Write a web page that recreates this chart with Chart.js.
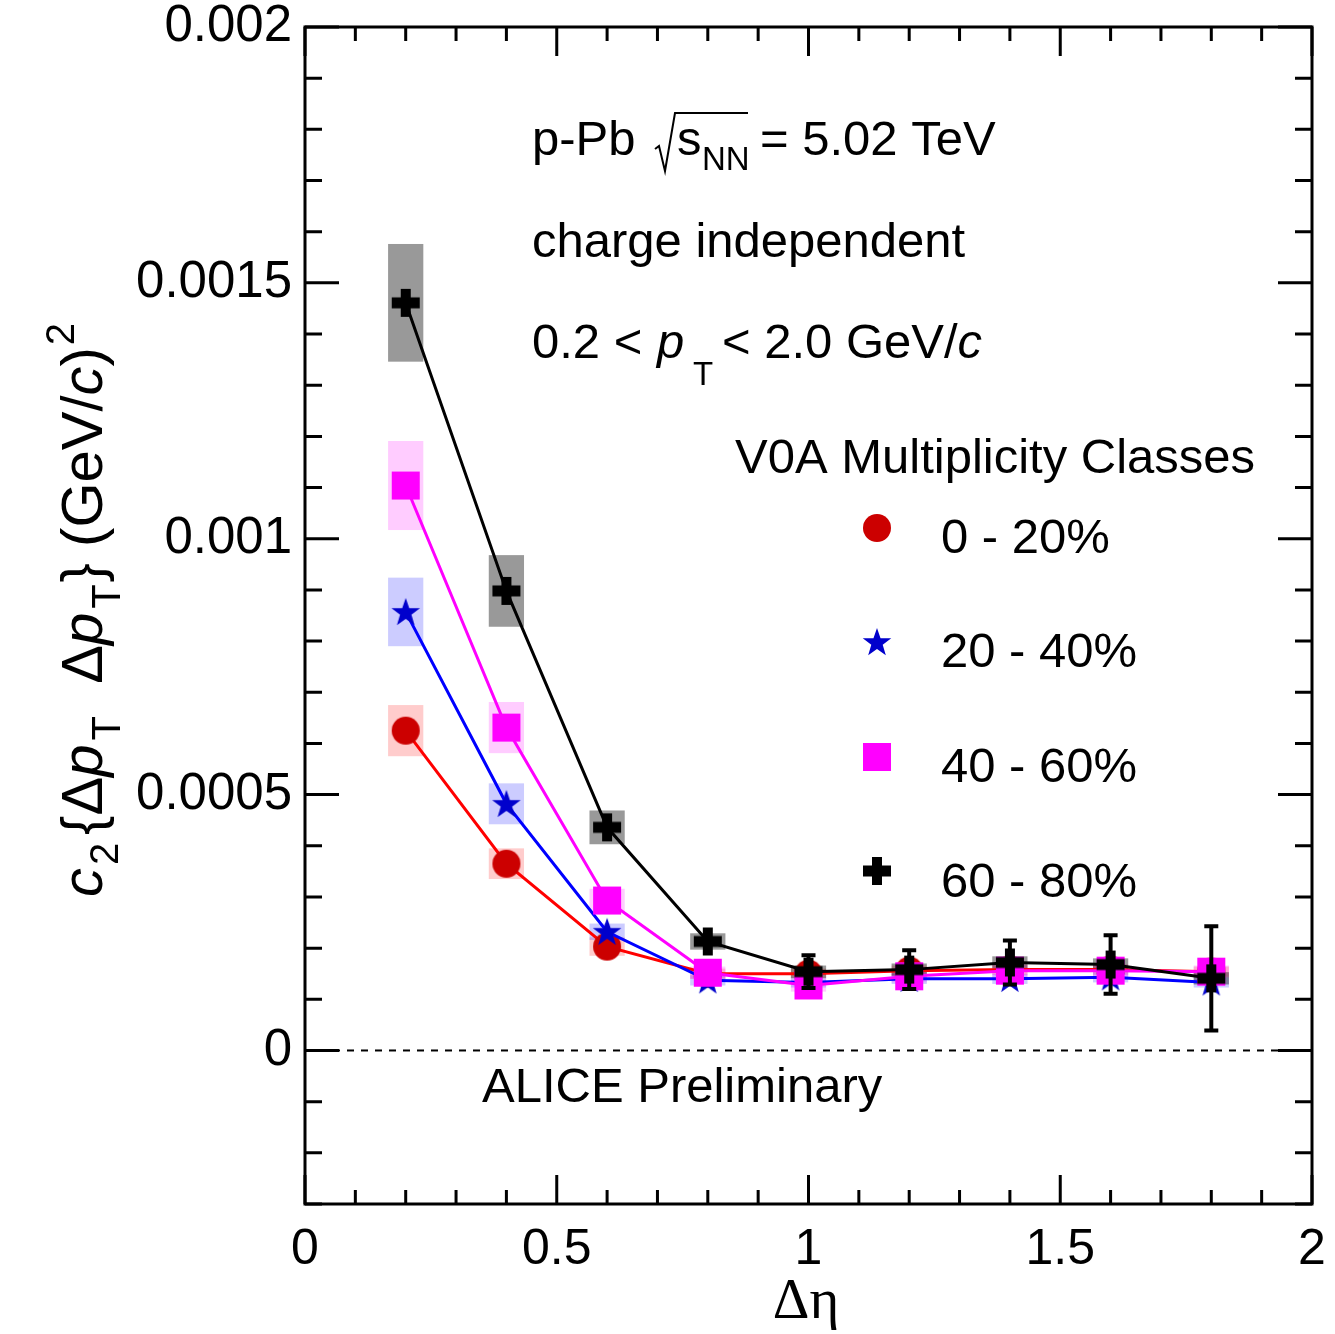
<!DOCTYPE html>
<html>
<head>
<meta charset="utf-8">
<script src="https://cdn.jsdelivr.net/npm/chart.js@4.4.1/dist/chart.umd.min.js"></script>
<style>
html, body { margin: 0; padding: 0; background: #fff; }
#wrap { width: 1335px; height: 1334px; position: relative; }
</style>
</head>
<body>
<div id="wrap"><canvas id="graphic"></canvas></div>
<script>
// delta eta bins
const etaBins = [0.2, 0.4, 0.6, 0.8, 1.0, 1.2, 1.4, 1.6, 1.8];
const classLabels = ['0 - 20%', '20 - 40%', '40 - 60%', '60 - 80%'];

// c2 values per multiplicity class, with systematic (boxes) and statistical (bars) errors
const c2_0_20  = [0.000625, 0.000365, 0.000203, 0.000150, 0.000150, 0.000156, 0.000158, 0.000158, 0.000154];
const sys_0_20 = [0.000050, 0.000030, 0.000018, 0.000010, 0.000010, 0.000010, 0.000010, 0.000010, 0.000010];
const c2_20_40  = [0.000857, 0.000482, 0.000232, 0.000137, 0.000133, 0.000140, 0.000140, 0.000143, 0.000133];
const sys_20_40 = [0.000067, 0.000040, 0.000016, 0.000010, 0.000010, 0.000010, 0.000010, 0.000010, 0.000010];
const c2_40_60  = [0.001104, 0.000631, 0.000293, 0.000152, 0.000127, 0.000145, 0.000156, 0.000156, 0.000154];
const sys_40_60 = [0.000087, 0.000050, 0.000023, 0.000012, 0.000012, 0.000012, 0.000012, 0.000012, 0.000012];
const c2_60_80   = [0.001461, 0.000898, 0.000436, 0.000213, 0.000154, 0.000158, 0.000172, 0.000168, 0.000141];
const sys_60_80  = [0.000115, 0.000070, 0.000033, 0.000016, 0.000012, 0.000012, 0.000012, 0.000012, 0.000012];
const stat_60_80 = [0, 0, 0, 0, 0.000032, 0.000038, 0.000043, 0.000057, 0.000102];

const xTickValues = [0, 0.5, 1, 1.5, 2];
const xTickLabels = ['0', '0.5', '1', '1.5', '2'];
const yTickValues = [0, 0.0005, 0.001, 0.0015, 0.002];
const yTickLabels = ['0', '0.0005', '0.001', '0.0015', '0.002'];

const SANS = '"Liberation Sans", Arial, Helvetica, sans-serif';

const makeMarker = (kind, color) => {
    const c = document.createElement('canvas');
    c.width = 34; c.height = 34;
    const g = c.getContext('2d');
    g.fillStyle = color;
    g.translate(17, 17);
    if (kind === 'circle') {
        g.beginPath(); g.arc(0, 0, 14, 0, Math.PI * 2); g.fill();
    } else if (kind === 'square') {
        g.fillRect(-14, -14, 28, 28);
    } else if (kind === 'star') {
        g.beginPath();
        for (let i = 0; i < 10; i++) {
            const r = i % 2 === 0 ? 15 : 6;
            const a = -Math.PI / 2 + i * Math.PI / 5;
            g.lineTo(r * Math.cos(a), r * Math.sin(a) + 1);
        }
        g.closePath(); g.fill();
    } else {
        g.fillRect(-14, -5.5, 28, 11);
        g.fillRect(-5, -14, 10, 28);
    }
    return c;
};

const series = [
    { label: classLabels[0], vals: c2_0_20, sys: sys_0_20, stat: null, line: '#ff0000', box: 'rgba(255,0,0,0.2)', marker: makeMarker('circle', '#cc0000'), order: 3 },
    { label: classLabels[1], vals: c2_20_40, sys: sys_20_40, stat: null, line: '#0000ff', box: 'rgba(0,0,255,0.2)', marker: makeMarker('star', '#0000cc'), order: 2 },
    { label: classLabels[2], vals: c2_40_60, sys: sys_40_60, stat: null, line: '#ff00ff', box: 'rgba(255,0,255,0.2)', marker: makeMarker('square', '#ff00ff'), order: 1 },
    { label: classLabels[3], vals: c2_60_80, sys: sys_60_80, stat: stat_60_80, line: '#000000', box: 'rgba(0,0,0,0.4)', marker: makeMarker('plus', '#000000'), order: 0 }
];

const drawParts = (ctx, parts, x, y) => {
    let cx = x;
    parts.forEach(p => {
        ctx.font = p.f;
        cx += (p.gap || 0);
        ctx.fillText(p.t, cx, y + (p.dy || 0));
        cx += ctx.measureText(p.t).width;
    });
    return cx;
};
const partsWidth = (ctx, parts) => {
    let w = 0;
    parts.forEach(p => { ctx.font = p.f; w += (p.gap || 0) + ctx.measureText(p.t).width; });
    return w;
};

const physPlugin = {
    id: 'phys',
    beforeDatasetsDraw(chart) {
        const { ctx, chartArea: a, scales: { x, y } } = chart;
        ctx.save();
        // dashed zero line
        ctx.strokeStyle = '#000';
        ctx.lineWidth = 2;
        ctx.setLineDash([7, 7]);
        ctx.beginPath();
        ctx.moveTo(a.left, y.getPixelForValue(0));
        ctx.lineTo(a.right, y.getPixelForValue(0));
        ctx.stroke();
        ctx.setLineDash([]);
        // systematic boxes
        series.forEach(s => {
            ctx.fillStyle = s.box;
            etaBins.forEach((e, i) => {
                const x0 = x.getPixelForValue(e - 0.035), x1 = x.getPixelForValue(e + 0.035);
                const y0 = y.getPixelForValue(s.vals[i] + s.sys[i]), y1 = y.getPixelForValue(s.vals[i] - s.sys[i]);
                ctx.fillRect(x0, y0, x1 - x0, y1 - y0);
            });
        });
        ctx.restore();
    },
    afterDatasetsDraw(chart) {
        const { ctx, scales: { x, y } } = chart;
        ctx.save();
        series.forEach(s => {
            if (!s.stat) return;
            ctx.strokeStyle = s.line;
            etaBins.forEach((e, i) => {
                if (!s.stat[i]) return;
                const px = x.getPixelForValue(e);
                const yt = y.getPixelForValue(s.vals[i] + s.stat[i]);
                const yb = y.getPixelForValue(s.vals[i] - s.stat[i]);
                ctx.lineWidth = 4;
                ctx.beginPath(); ctx.moveTo(px, yt); ctx.lineTo(px, yb); ctx.stroke();
                ctx.beginPath();
                ctx.moveTo(px - 7, yt); ctx.lineTo(px + 7, yt);
                ctx.moveTo(px - 7, yb); ctx.lineTo(px + 7, yb);
                ctx.stroke();
            });
        });
        ctx.restore();
    },
    afterDraw(chart) {
        const { ctx, chartArea: a, scales: { x, y } } = chart;
        ctx.save();
        ctx.strokeStyle = '#000';
        ctx.fillStyle = '#000';
        ctx.lineWidth = 3;
        ctx.strokeRect(a.left, a.top, a.right - a.left, a.bottom - a.top);

        // inward ticks on all four sides
        ctx.beginPath();
        for (let k = -3; k <= 20; k++) {
            const py = y.getPixelForValue(k * 0.0001);
            const len = k % 5 === 0 ? 34 : 17;
            ctx.moveTo(a.left, py); ctx.lineTo(a.left + len, py);
            ctx.moveTo(a.right, py); ctx.lineTo(a.right - len, py);
        }
        for (let k = 0; k <= 20; k++) {
            const px = x.getPixelForValue(k * 0.1);
            const len = k % 5 === 0 ? 29 : 14;
            ctx.moveTo(px, a.bottom); ctx.lineTo(px, a.bottom - len);
            ctx.moveTo(px, a.top); ctx.lineTo(px, a.top + len);
        }
        ctx.stroke();

        // annotations
        const N = '49px ' + SANS, I = 'italic 49px ' + SANS, S = '33px ' + SANS;
        ctx.textAlign = 'left';
        ctx.textBaseline = 'alphabetic';
        ctx.font = N;
        ctx.fillText('p-Pb', 532, 155);
        ctx.lineWidth = 2;
        ctx.beginPath();
        ctx.moveTo(655, 149); ctx.lineTo(659, 146); ctx.lineTo(665, 171); ctx.lineTo(675, 113); ctx.lineTo(748, 113);
        ctx.stroke();
        ctx.font = N; ctx.fillText('s', 677, 155);
        ctx.font = S; ctx.fillText('NN', 702, 170);
        ctx.font = N; ctx.fillText('= 5.02 TeV', 760, 155);

        ctx.fillText('charge independent', 532, 257);

        ctx.fillText('0.2 <', 532, 358);
        ctx.font = I; ctx.fillText('p', 657, 358);
        ctx.font = S; ctx.fillText('T', 693, 385);
        ctx.font = N;
        const w1 = ctx.measureText('< 2.0 GeV/').width;
        ctx.fillText('< 2.0 GeV/', 722, 358);
        ctx.font = I; ctx.fillText('c', 722 + w1, 358);

        ctx.font = N;
        ctx.fillText('V0A Multiplicity Classes', 735, 473);
        ctx.fillText('ALICE Preliminary', 482, 1102);

        // legend
        const legY = [528, 642, 757, 871];
        const legBase = [553, 667, 782, 897];
        series.forEach((s, i) => {
            ctx.drawImage(s.marker, 877 - 17, legY[i] - 17);
            ctx.font = N;
            ctx.fillText(s.label, 941, legBase[i]);
        });

        // x title
        ctx.font = '57px "Liberation Serif", "Times New Roman", serif';
        ctx.textAlign = 'center';
        ctx.fillText('\u0394\u03b7', 806, 1318);

        // y title (rotated)
        const F = 58;
        const YN = F + 'px ' + SANS, YI = 'italic ' + F + 'px ' + SANS, YS = '40px ' + SANS;
        const parts = [
            { t: 'c', f: YI },
            { t: '2', f: YS, dy: 16, gap: 3 },
            { t: '{\u0394', f: YN, gap: 8 },
            { t: 'p', f: YI },
            { t: 'T', f: YS, dy: 18, gap: 4 },
            { t: '  \u0394', f: YN },
            { t: 'p', f: YI },
            { t: 'T', f: YS, dy: 18, gap: 4 },
            { t: '} (GeV/', f: YN, gap: 2 },
            { t: 'c', f: YI },
            { t: ')', f: YN },
            { t: '2', f: YS, dy: -28, gap: 2 }
        ];
        ctx.textAlign = 'left';
        const tw = partsWidth(ctx, parts);
        ctx.translate(102, 610);
        ctx.rotate(-Math.PI / 2);
        drawParts(ctx, parts, -tw / 2, 0);
        ctx.restore();
    }
};

const ctx = document.getElementById('graphic');

new Chart(ctx, {
    type: 'scatter',
    data: {
        datasets: series.map(s => ({
            label: s.label,
            data: etaBins.map((e, i) => ({ x: e, y: s.vals[i] })),
            showLine: true,
            borderColor: s.line,
            borderWidth: 3,
            pointStyle: s.marker,
            pointRadius: 14,
            pointHoverRadius: 14,
            order: s.order,
            tension: 0
        }))
    },
    options: {
        responsive: true,
        maintainAspectRatio: false,
        animation: false,
        layout: { padding: { left: 0, right: 23, top: 27, bottom: 0 } },
        scales: {
            x: {
                type: 'linear',
                min: 0,
                max: 2,
                afterBuildTicks: scale => { scale.ticks = xTickValues.map(v => ({ value: v })); },
                afterFit: scale => {
                    scale.height = 130;
                    scale.paddingLeft = 0;
                    scale.paddingRight = 0;
                },
                ticks: {
                    color: '#000',
                    padding: 16,
                    maxRotation: 0,
                    autoSkip: false,
                    font: { family: SANS, size: 50 },
                    callback: (v) => xTickLabels[xTickValues.indexOf(v)]
                },
                grid: { display: false, drawTicks: false },
                border: { display: false }
            },
            y: {
                type: 'linear',
                min: -0.0003,
                max: 0.002,
                afterBuildTicks: scale => { scale.ticks = yTickValues.map(v => ({ value: v })); },
                afterFit: scale => {
                    scale.width = 305;
                    scale.paddingTop = 0;
                    scale.paddingBottom = 0;
                },
                ticks: {
                    color: '#000',
                    padding: 13,
                    autoSkip: false,
                    font: { family: SANS, size: 51 },
                    callback: (v) => yTickLabels[yTickValues.indexOf(v)]
                },
                grid: { display: false, drawTicks: false },
                border: { display: false }
            }
        },
        plugins: {
            legend: { display: false },
            tooltip: { enabled: false }
        }
    },
    plugins: [physPlugin]
});
</script>
</body>
</html>
